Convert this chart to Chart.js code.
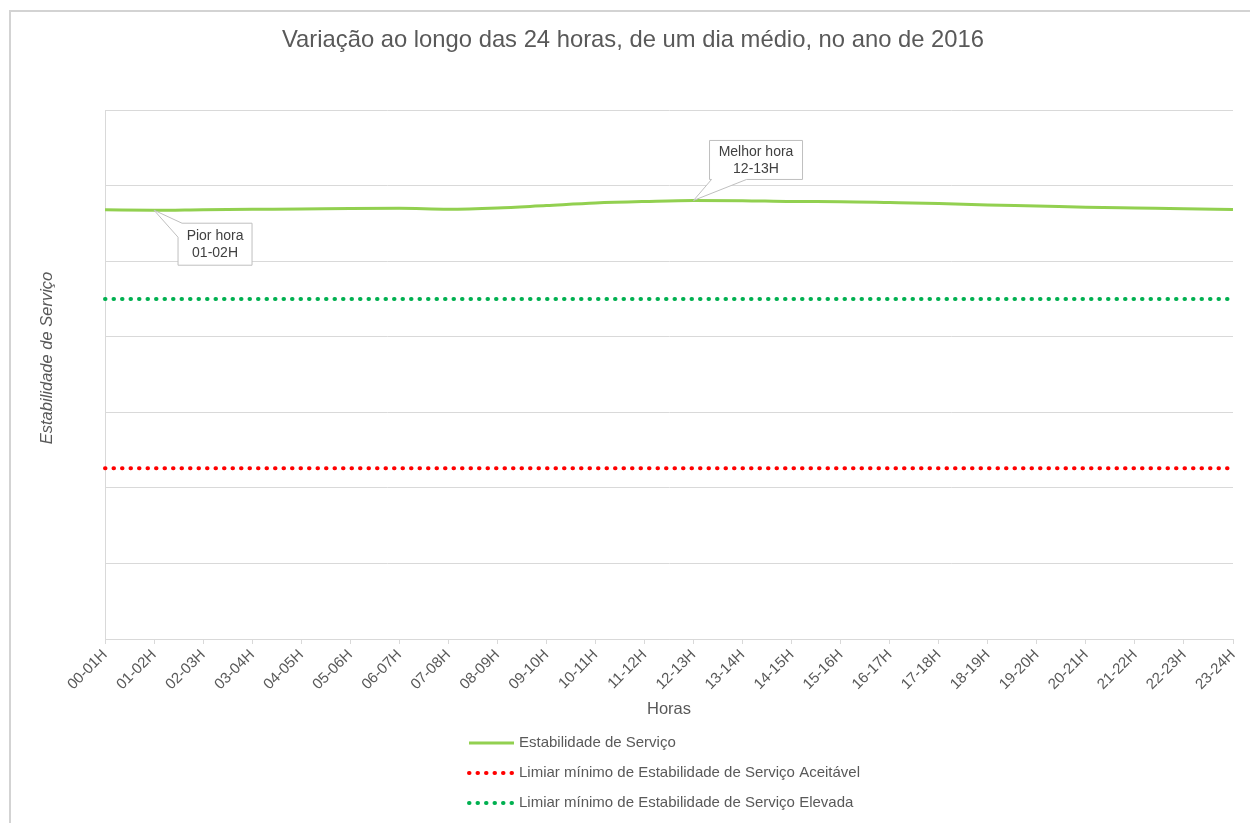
<!DOCTYPE html>
<html lang="pt">
<head>
<meta charset="utf-8">
<title>Estabilidade de Serviço</title>
<script src="https://cdn.jsdelivr.net/npm/chart.js@4.4.0/dist/chart.umd.min.js"></script>
<style>
  body { margin: 0; background: #fff; }
  #moldura { position: absolute; left: 9px; top: 10px; width: 1300px; height: 900px; border: 2px solid #d3d3d3; }
  #grafico { position: absolute; left: 0; top: 0; }
</style>
</head>
<body>
<div id="moldura"></div>
<canvas id="grafico" width="1250" height="823"></canvas>
<script>
// dados
const horas = ['00-01H','01-02H','02-03H','03-04H','04-05H','05-06H','06-07H','07-08H',
  '08-09H','09-10H','10-11H','11-12H','12-13H','13-14H','14-15H','15-16H',
  '16-17H','17-18H','18-19H','19-20H','20-21H','21-22H','22-23H','23-24H'];
const estabilidade = [56.80, 56.74, 56.81, 56.86, 56.90, 56.97, 56.99, 56.87,
  57.03, 57.36, 57.69, 57.89, 58.03, 58.00, 57.89, 57.87,
  57.76, 57.63, 57.43, 57.30, 57.13, 57.03, 56.94, 56.83];
const limiarAceitavel = [22.6, 22.6, 22.6, 22.6, 22.6, 22.6, 22.6, 22.6,
  22.6, 22.6, 22.6, 22.6, 22.6, 22.6, 22.6, 22.6,
  22.6, 22.6, 22.6, 22.6, 22.6, 22.6, 22.6, 22.6];
const limiarElevada = [45, 45, 45, 45, 45, 45, 45, 45,
  45, 45, 45, 45, 45, 45, 45, 45,
  45, 45, 45, 45, 45, 45, 45, 45];
const piorHora = 1;     // 01-02H
const melhorHora = 12;  // 12-13H

const cinza = '#595959';
const fonte = '"Liberation Sans", Arial, sans-serif';
const titulo = 'Variação ao longo das 24 horas, de um dia médio, no ano de 2016';
const tituloY = 'Estabilidade de Serviço';

// caixas "Pior hora" / "Melhor hora", titulo e legenda
const notas = {
  id: 'notas',
  afterDatasetsDraw(chart) {
    const ctx = chart.ctx;
    const pts = chart.getDatasetMeta(0).data;

    function caixa(path, cx, cy, l1, l2) {
      ctx.save();
      ctx.beginPath();
      path.forEach((p, i) => i ? ctx.lineTo(p[0], p[1]) : ctx.moveTo(p[0], p[1]));
      ctx.closePath();
      ctx.fillStyle = '#fff';
      ctx.fill();
      ctx.strokeStyle = '#bfbfbf';
      ctx.lineWidth = 1;
      ctx.stroke();
      ctx.fillStyle = '#404040';
      ctx.font = '14px ' + fonte;
      ctx.textAlign = 'center';
      ctx.textBaseline = 'middle';
      ctx.fillText(l1, cx, cy - 8.5);
      ctx.fillText(l2, cx, cy + 8.5);
      ctx.restore();
    }

    // pior hora: caixa abaixo e à direita
    let p = pts[piorHora];
    let l = p.x + 24, t = p.y + 13, w = 74, h = 42;
    caixa([[l + 4, t], [l + w, t], [l + w, t + h], [l, t + h], [l, t + 14], [p.x, p.y]],
      l + w / 2, t + h / 2, 'Pior hora', horas[piorHora]);

    // melhor hora: caixa acima e à direita
    p = pts[melhorHora];
    l = p.x + 16; t = p.y - 60; w = 93; h = 39;
    caixa([[l, t], [l + w, t], [l + w, t + h], [l + 37, t + h], [p.x, p.y], [l + 2, t + h], [l, t + h]],
      l + w / 2, t + h / 2 + 1, 'Melhor hora', horas[melhorHora]);
  },
  afterDraw(chart) {
    const ctx = chart.ctx;
    // titulo do grafico
    ctx.save();
    ctx.font = '23.8px ' + fonte;
    ctx.fillStyle = cinza;
    ctx.textAlign = 'center';
    ctx.textBaseline = 'middle';
    ctx.fillText(titulo, 633, 40);
    ctx.restore();

    // titulo do eixo y
    ctx.save();
    ctx.translate(47, 358);
    ctx.rotate(-Math.PI / 2);
    ctx.font = 'italic 16.5px ' + fonte;
    ctx.fillStyle = cinza;
    ctx.textAlign = 'center';
    ctx.textBaseline = 'middle';
    ctx.fillText(tituloY, 0, 0);
    ctx.restore();

    // legenda em coluna
    chart.data.datasets.forEach((ds, i) => {
      const y = 743 + i * 30;
      ctx.save();
      ctx.strokeStyle = ds.borderColor;
      ctx.lineWidth = ds.borderWidth;
      ctx.lineCap = ds.borderCapStyle || 'butt';
      ctx.setLineDash(ds.borderDash || []);
      ctx.beginPath();
      ctx.moveTo(469, y);
      ctx.lineTo(514, y);
      ctx.stroke();
      ctx.setLineDash([]);
      ctx.font = '15px ' + fonte;
      ctx.fillStyle = cinza;
      ctx.textBaseline = 'middle';
      ctx.fillText(ds.label, 519, y);
      ctx.restore();
    });
  }
};

new Chart(document.getElementById('grafico'), {
  type: 'line',
  data: {
    labels: horas,
    datasets: [{
      label: 'Estabilidade de Serviço',
      data: estabilidade,
      borderColor: '#92d050',
      borderWidth: 3,
      pointRadius: 0,
      cubicInterpolationMode: 'monotone'
    }, {
      label: 'Limiar mínimo de Estabilidade de Serviço Aceitável',
      data: limiarAceitavel,
      borderColor: '#ff0000',
      borderWidth: 4,
      borderDash: [0.5, 8],
      borderCapStyle: 'round',
      pointRadius: 0
    }, {
      label: 'Limiar mínimo de Estabilidade de Serviço Elevada',
      data: limiarElevada,
      borderColor: '#00b050',
      borderWidth: 4,
      borderDash: [0.5, 8],
      borderCapStyle: 'round',
      pointRadius: 0
    }]
  },
  options: {
    responsive: false,
    animation: false,
    layout: { padding: { left: 0, right: 17, top: 110, bottom: 0 } },
    scales: {
      x: {
        offset: false,
        grid: { drawOnChartArea: false, drawTicks: true, tickLength: 5, color: '#d9d9d9' },
        border: { color: '#d9d9d9' },
        ticks: { minRotation: 45, maxRotation: 45, autoSkip: false, color: cinza, font: { family: fonte, size: 15 }, padding: 2 },
        title: { display: true, text: 'Horas', color: cinza, font: { family: fonte, size: 16.5 }, padding: { bottom: 104 } },
        afterFit(s) { s.height = 184; }
      },
      y: {
        min: 0, max: 70,
        ticks: { display: false, stepSize: 10 },
        grid: { color: '#d9d9d9', drawTicks: false },
        border: { color: '#d9d9d9' },
        afterFit(s) { s.width = 105; }
      }
    },
    plugins: {
      legend: { display: false },
      tooltip: { enabled: false },
      title: { display: false }
    }
  },
  plugins: [notas]
});
</script>
</body>
</html>
